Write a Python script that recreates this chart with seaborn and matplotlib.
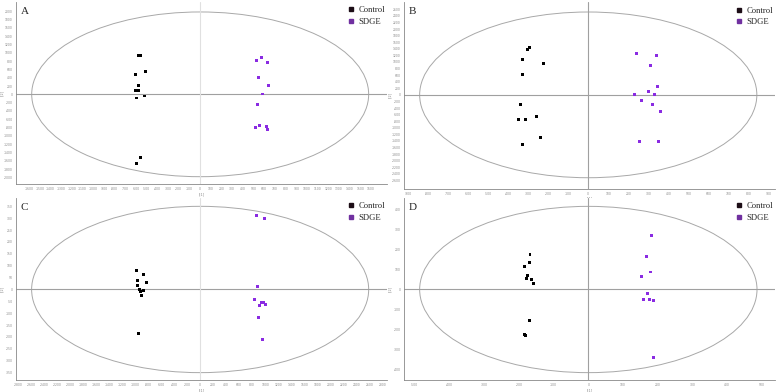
import numpy as np
import pandas as pd
import matplotlib.pyplot as plt
from matplotlib.patches import Ellipse
from matplotlib.lines import Line2D
import seaborn as sns

sns.set_style('white')
plt.rcParams['font.family'] = ['DejaVu Sans']

# =========== DATA (scores t[1], t[2]) ================================
groups = ['Control', 'SDGE']

a_ctrl_x = [-578, -559, -512, -609, -575, -609, -594, -578, -594, -519, -556, -594]
a_ctrl_y = [944, 928, 560, 472, 224, 96, 96, 96, -88, -40, -1520, -1664]
a_sdge_x = [528, 575, 628, 544, 638, 584, 538, 559, 519, 625, 634]
a_sdge_y = [824, 880, 776, 416, 224, 8, -240, -744, -808, -784, -856]

b_ctrl_x = [-293, -302, -330, -223, -328, -337, -338, -350, -315, -260, -237, -330]
b_ctrl_y = [1442, 1381, 1086, 964, 609, -284, -305, -741, -761, -670, -1289, -1503]
b_sdge_x = [243, 343, 312, 347, 303, 233, 330, 265, 320, 360, 257, 350]
b_sdge_y = [1269, 1208, 893, 254, 91, 0, 10, -173, -294, -497, -1431, -1421]

c_ctrl_x = [-985, -959, -867, -969, -831, -938, -913, -872, -897, -944]
c_ctrl_y = [80, 38, 65, 17, 28, 1, -7, -4, -27, -186]
c_sdge_x = [872, 990, 882, 836, 944, 974, 913, 1000, 903, 954]
c_sdge_y = [311, 298, 14, -44, -56, -56, -68, -62, -117, -210]

d_ctrl_x = [-168, -169, -183, -174, -177, -163, -157, -169, -184, -182]
d_ctrl_y = [174, 138, 116, 72, 54, 49, 32, -155, -224, -229]
d_sdge_x = [182, 167, 180, 153, 171, 160, 177, 188, 189]
d_sdge_y = [270, 167, 88, 66, -20, -51, -49, -56, -342]

# Hotelling T2 ellipse half axes per panel
ellipse_a = (1578, 1984)
ellipse_b = (842, 2518)
ellipse_c = (2590, 350)
ellipse_d = (486, 418)

point_colors = {'Control': '#000000', 'SDGE': '#8a2be2'}
legend_colors = {'Control': '#1c0d16', 'SDGE': '#7030a0'}


# =========== FUNCTIONS =============
def make_frame(cx, cy, sx, sy):
    df = pd.DataFrame({
        't1': cx + sx,
        't2': cy + sy,
        'group': ['Control'] * len(cx) + ['SDGE'] * len(sx),
    })
    return df


def draw_panel(ax, letter, df, ell, xlim, ylim, xticks, yticks, vcolor):
    ax.add_patch(Ellipse((0, 0), 2 * ell[0], 2 * ell[1], fill=False,
                         ec='#a8a8a8', lw=0.7, zorder=1))
    ax.axhline(0, color='#a0a0a0', lw=0.8, zorder=1)
    ax.axvline(0, color=vcolor, lw=0.8, zorder=1)

    sns.scatterplot(data=df, x='t1', y='t2', hue='group', hue_order=groups,
                    palette=point_colors, marker='s', s=4.5, linewidth=0,
                    legend=False, ax=ax, zorder=3)

    ax.set_xlim(xlim)
    ax.set_ylim(ylim)
    ax.set_xticks(xticks)
    ax.set_yticks(yticks)
    ax.set_xticklabels([str(v) for v in xticks])
    ax.set_yticklabels([str(v) for v in yticks])
    ax.tick_params(labelsize=2.2, length=1.5, width=0.4, pad=1.0,
                   colors='#777777', labelcolor='#888888')
    ax.set_xlabel('t[1]', fontsize=2.4, color='#888888', labelpad=0.3)
    ax.set_ylabel('t[2]', fontsize=2.4, color='#888888')
    ax.yaxis.set_label_coords(-0.032, 0.5)

    for side in ['top', 'right']:
        ax.spines[side].set_visible(False)
    for side in ['left', 'bottom']:
        ax.spines[side].set_color('#888888')
        ax.spines[side].set_linewidth(0.6)

    ax.text(0.012, 0.975, letter, transform=ax.transAxes, va='top', ha='left',
            fontsize=8, family='Liberation Serif')

    handles = [Line2D([], [], ls='', marker='s', markersize=3.2,
                      color=legend_colors[g]) for g in groups]
    ax.legend(handles, groups, loc='upper right', bbox_to_anchor=(1.0, 0.985),
              frameon=False, prop={'family': 'Liberation Serif', 'size': 6.2},
              handletextpad=0.4, labelspacing=0.45, handlelength=1.0,
              borderaxespad=0.0, borderpad=0.2)


# =========== PLOT =============
fig = plt.figure(figsize=(7.77, 3.92), dpi=100)
ax_a = fig.add_axes([0.0206, 0.5306, 0.4775, 0.4643])
ax_b = fig.add_axes([0.5200, 0.5179, 0.4775, 0.4770])
ax_c = fig.add_axes([0.0206, 0.0306, 0.4775, 0.4643])
ax_d = fig.add_axes([0.5200, 0.0306, 0.4775, 0.4643])

draw_panel(ax_a, 'A', make_frame(a_ctrl_x, a_ctrl_y, a_sdge_x, a_sdge_y),
           ellipse_a, (-1725, 1750), (-2160, 2224),
           list(range(-1600, 1601, 100)), list(range(-2000, 2001, 200)), '#e0e0e0')
draw_panel(ax_b, 'B', make_frame(b_ctrl_x, b_ctrl_y, b_sdge_x, b_sdge_y),
           ellipse_b, (-920, 933), (-2860, 2822),
           list(range(-900, 901, 100)), list(range(-2600, 2601, 200)), '#a0a0a0')
draw_panel(ax_c, 'C', make_frame(c_ctrl_x, c_ctrl_y, c_sdge_x, c_sdge_y),
           ellipse_c, (-2830, 2872), (-381, 385),
           list(range(-2800, 2801, 200)), list(range(-350, 351, 50)), '#e0e0e0')
draw_panel(ax_d, 'D', make_frame(d_ctrl_x, d_ctrl_y, d_sdge_x, d_sdge_y),
           ellipse_d, (-531, 538), (-455, 460),
           list(range(-500, 501, 100)), list(range(-400, 401, 100)), '#a0a0a0')

fig.savefig('out.png', dpi=100)
